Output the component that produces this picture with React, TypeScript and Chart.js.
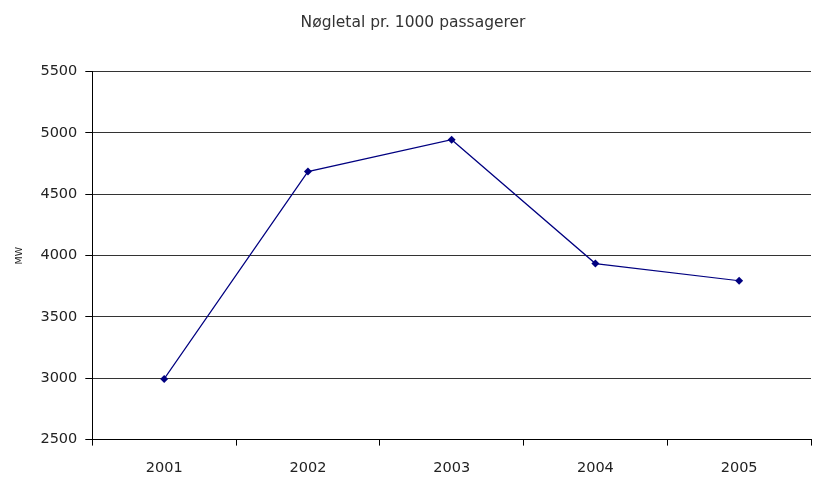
import React, { useEffect, useRef } from "react";
import { Chart, registerables } from "chart.js";

Chart.register(...registerables);

const titleText = "Nøgletal pr. 1000 passagerer";
const yAxisTitle = "MW";
const categories = ["2001", "2002", "2003", "2004", "2005"];
const values = [2995, 4685, 4945, 3935, 3795];
const yMin = 2500;
const yMax = 5500;
const yStep = 500;

const FONT = "'DejaVu Sans', sans-serif";

export default function App() {
  const ref = useRef<HTMLCanvasElement>(null);
  useEffect(() => {
    document.body.style.margin = "0";
    const chart = new Chart(ref.current!, {
      type: "line",
      data: {
        labels: categories,
        datasets: [
          {
            data: values,
            borderColor: "#000080",
            backgroundColor: "#000080",
            borderWidth: 1.2,
            pointStyle: "rectRot",
            pointRadius: 4,
            pointBorderWidth: 0,
            tension: 0,
          },
        ],
      },
      options: {
        responsive: false,
        animation: false,
        layout: { padding: { top: 14, right: 3, left: 14, bottom: -12 } },
        plugins: {
          legend: { display: false },
          tooltip: { enabled: false },
          title: {
            display: true,
            text: titleText,
            color: "#333",
            font: { family: FONT, size: 15.5, weight: "normal" },
            padding: { top: 0, bottom: 39 },
          },
        },
        scales: {
          x: {
            offset: true,
            border: { color: "#000", width: 1 },
            grid: {
              offset: true,
              drawOnChartArea: true,
              color: (c: any) => (c.index === categories.length ? "#999" : "rgba(0,0,0,0)"),
              tickColor: "#000",
              tickLength: 6,
            },
            ticks: {
              color: "#222",
              font: { family: FONT, size: 14.5 },
              padding: 14,
            },
          },
          y: {
            min: yMin,
            max: yMax,
            border: { color: "#000", width: 1 },
            title: {
              display: true,
              text: yAxisTitle,
              color: "#222",
              font: { family: FONT, size: 9.5 },
              padding: { top: 0, bottom: 7 },
            },
            grid: {
              color: "#333",
              tickColor: "#000",
              tickLength: 7,
            },
            ticks: {
              stepSize: yStep,
              color: "#222",
              font: { family: FONT, size: 14.5 },
              padding: 8,
              callback: (v: any) => String(v),
            },
          },
        },
      },
    });
    return () => chart.destroy();
  }, []);
  return <canvas ref={ref} width={815} height={479} style={{ display: "block" }} />;
}
